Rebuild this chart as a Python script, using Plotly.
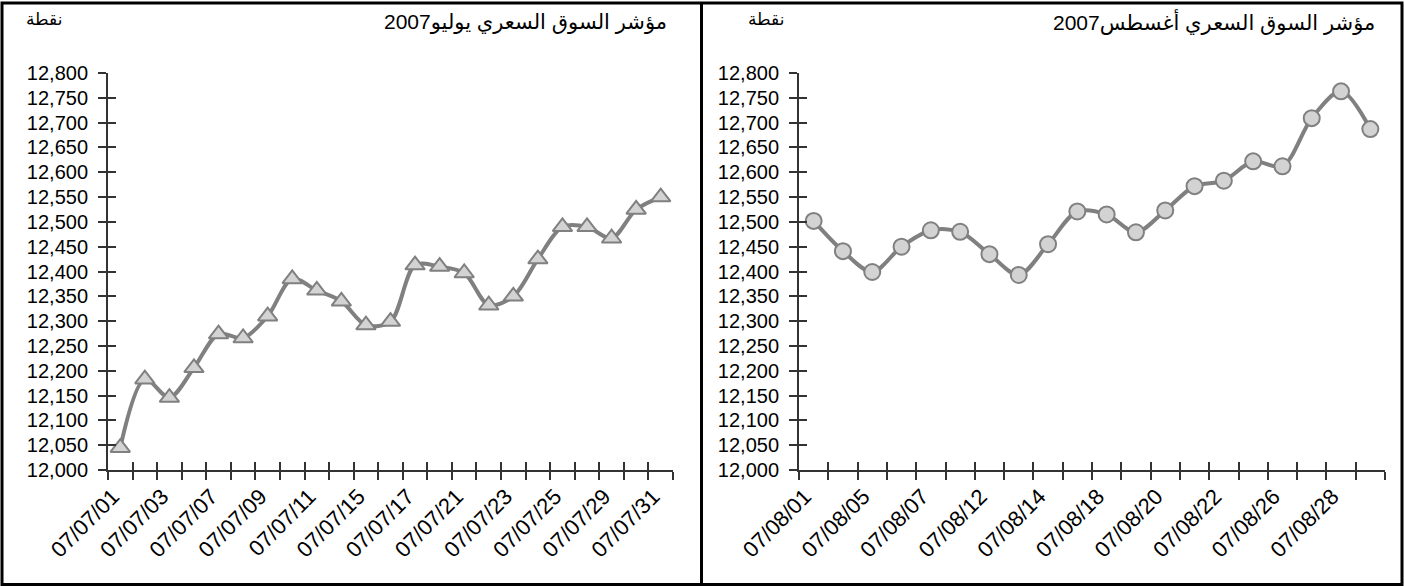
import plotly.graph_objects as go

# ---------------- data ----------------
july_dates = ["07/07/01", "07/07/02", "07/07/03", "07/07/04", "07/07/07", "07/07/08",
              "07/07/09", "07/07/10", "07/07/11", "07/07/14", "07/07/15", "07/07/16",
              "07/07/17", "07/07/18", "07/07/21", "07/07/22", "07/07/23", "07/07/24",
              "07/07/25", "07/07/28", "07/07/29", "07/07/30", "07/07/31"]
july_values = [12045, 12183, 12146, 12206, 12274, 12266, 12310, 12385, 12362, 12340,
               12292, 12299, 12413, 12410, 12397, 12332, 12350, 12425, 12490, 12490,
               12467, 12525, 12550]

aug_dates = ["07/08/01", "07/08/04", "07/08/05", "07/08/06", "07/08/07", "07/08/08",
             "07/08/12", "07/08/13", "07/08/14", "07/08/15", "07/08/18", "07/08/19",
             "07/08/20", "07/08/21", "07/08/22", "07/08/25", "07/08/26", "07/08/27",
             "07/08/28", "07/08/29"]
aug_values = [12502, 12441, 12399, 12450, 12483, 12480, 12435, 12393, 12455, 12521,
              12515, 12479, 12523, 12572, 12583, 12622, 12612, 12709, 12763, 12687]

left_title = "مؤشر السوق السعري يوليو2007"
right_title = "مؤشر السوق السعري أغسطس2007"
unit_label = "نقطة"

y_min, y_max, y_step = 12000, 12800, 50

# ---------------- styling ----------------
W, H = 1404, 586
FONT = "Liberation Sans, Arial, DejaVu Sans, sans-serif"
AX = "#333333"
LINE = "#808080"
FILL = "#D3D3D3"
TL = 8
LABEL_SHIFT = 0.3  # rotated labels sit slightly left of the category centre

fig = go.Figure()

def px_x(v):
    return v / W

def px_y(v):
    return 1 - v / H

panels = [
    dict(dates=july_dates, values=july_values, symbol="triangle-up", msize=17,
         xdom=[px_x(108), px_x(673)], sfx=("", "2", "3"), ysfx=("", "2"),
         title=left_title, title_x=px_x(669), unit_x=px_x(24)),
    dict(dates=aug_dates, values=aug_values, symbol="circle", msize=16,
         xdom=[px_x(799), px_x(1385)], sfx=("4", "5", "6"), ysfx=("3", "4"),
         title=right_title, title_x=px_x(1377), unit_x=px_x(746)),
]

ydom = [px_y(470), px_y(73)]
ytickvals = list(range(y_min, y_max + 1, y_step))

for p in panels:
    n = len(p["dates"])
    xs = list(range(n))
    xm, xi, xl = p["sfx"]
    ym, yi = p["ysfx"]
    xm_ref = "x" + xm
    ym_ref = "y" + ym

    fig.add_trace(go.Scatter(
        x=xs, y=p["values"], mode="lines+markers",
        line=dict(color=LINE, width=4, shape="spline", smoothing=0.9),
        marker=dict(symbol=p["symbol"], size=p["msize"], color=FILL,
                    line=dict(color=LINE, width=2)),
        xaxis=xm_ref, yaxis=ym_ref, showlegend=False, cliponaxis=False))
    # dummy traces so overlay axes are drawn
    for xa, ya in ((xi, ym), (xl, ym), (xm, yi)):
        fig.add_trace(go.Scatter(x=[None], y=[None], xaxis="x" + xa, yaxis="y" + ya,
                                 showlegend=False, hoverinfo="skip"))

    boundaries = [i - 0.5 for i in range(n + 1)]
    xrange_ = [-0.5, n - 0.5]
    common_x = dict(domain=p["xdom"], range=xrange_, showgrid=False, zeroline=False,
                    fixedrange=True, automargin=False)
    fig.update_layout(**{
        "xaxis" + xm: dict(**common_x, anchor=ym_ref, tickmode="array", tickvals=boundaries,
                           showticklabels=False, ticks="outside", ticklen=TL, tickwidth=2,
                           tickcolor=AX, showline=True, linecolor=AX, linewidth=2),
        "xaxis" + xi: dict(**common_x, anchor=ym_ref, overlaying=xm_ref, tickmode="array",
                           tickvals=boundaries, showticklabels=False, ticks="inside",
                           ticklen=TL, tickwidth=2, tickcolor=AX, showline=False),
        "xaxis" + xl: dict(**common_x, anchor=ym_ref, overlaying=xm_ref, tickmode="array",
                           tickvals=[x - LABEL_SHIFT for x in xs[::2]],
                           ticktext=p["dates"][::2], ticks="outside",
                           ticklen=4, tickcolor="rgba(0,0,0,0)",
                           tickangle=-45, showline=False,
                           tickfont=dict(family=FONT, size=22, color="#000000")),
        "yaxis" + ym: dict(domain=ydom, range=[y_min, y_max], anchor=xm_ref, tickmode="array",
                           tickvals=ytickvals, tickformat=",d", ticks="outside", ticklen=TL,
                           tickwidth=2, tickcolor=AX, showline=True, linecolor=AX,
                           linewidth=2, showgrid=False, zeroline=False, ticklabelstandoff=6,
                           tickfont=dict(family=FONT, size=20, color="#000000"),
                           fixedrange=True, automargin=False),
        "yaxis" + yi: dict(domain=ydom, range=[y_min, y_max], anchor=xm_ref,
                           overlaying=ym_ref, side="left", tickmode="array",
                           tickvals=ytickvals, showticklabels=False, ticks="inside",
                           ticklen=TL, tickwidth=2, tickcolor=AX, showline=False,
                           showgrid=False, zeroline=False, fixedrange=True,
                           automargin=False),
    })

    fig.add_annotation(text=p["title"], x=p["title_x"], y=px_y(22), xref="paper",
                       yref="paper", xanchor="right", yanchor="middle", showarrow=False,
                       font=dict(family=FONT, size=21, color="#000000"))
    fig.add_annotation(text=unit_label, x=p["unit_x"], y=px_y(20), xref="paper",
                       yref="paper", xanchor="left", yanchor="middle", showarrow=False,
                       font=dict(family=FONT, size=17, color="#000000"))

# frame: outer border + divider
fig.add_shape(type="rect", xref="paper", yref="paper",
              x0=px_x(2), x1=px_x(1402), y0=px_y(584.5), y1=px_y(3),
              line=dict(color="#000000", width=3), fillcolor="rgba(0,0,0,0)")
fig.add_shape(type="line", xref="paper", yref="paper",
              x0=px_x(701.5), x1=px_x(701.5), y0=px_y(584.5), y1=px_y(3),
              line=dict(color="#000000", width=3))

fig.update_layout(width=W, height=H, margin=dict(l=0, r=0, t=0, b=0, pad=0),
                  template="none",
                  paper_bgcolor="#FFFFFF", plot_bgcolor="#FFFFFF",
                  font=dict(family=FONT, color="#000000"))

fig.write_html("out.html", config={"displayModeBar": False},
               post_script="document.body.style.margin='0px';"
                           "document.body.style.overflow='hidden';")
